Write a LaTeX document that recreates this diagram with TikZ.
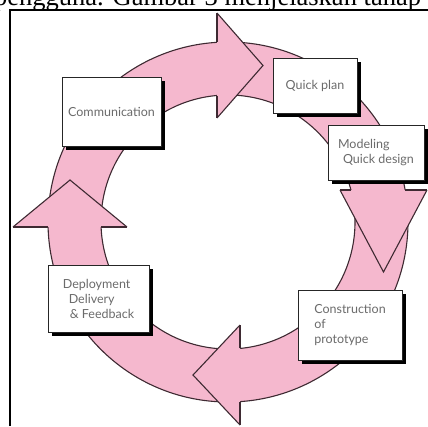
\documentclass[tikz,border=0pt]{standalone}
\usepackage{fontspec}
\setmainfont{Liberation Serif}
\newfontfamily\boxfont{Lato}
\usetikzlibrary{shadows,positioning}
\definecolor{ringpink}{RGB}{245,184,206}
\definecolor{ringline}{RGB}{62,42,50}
\newcommand{\ringhead}[3]{\fill[ringpink] (#1) -- (#2) -- (#3) -- cycle;
  \draw[ringedge] (#1) -- (#2) -- (#3);}

\begin{document}
\begin{tikzpicture}[x=1pt,y=-1pt,
  ringedge/.style={draw=ringline,line width=1.1pt,line join=miter},
  stage/.style={draw=black!85,fill=white,line width=0.8pt,text=black!58,
    font=\boxfont\fontsize{12.5}{15}\selectfont,align=left,inner sep=0pt,
    drop shadow={shadow xshift=4pt,shadow yshift=-4pt,fill=black,opacity=1}}]
% cut line of text above
\begin{scope}
\clip (0,0) rectangle (428,426);
\node[anchor=base west,inner sep=0pt,font=\fontsize{26.5}{26.5}\selectfont] (above) at (-6,5) {pengguna. Gambar 3 menjelaskan tahap};
\end{scope}
% frame
\draw[line width=1.4pt] (10,426) -- (10,10) -- (428,10);
% ring
\coordinate (c) at (228,222);
\filldraw[ringedge,fill=ringpink,even odd rule] (c) circle[radius=180] (c) circle[radius=127];
% heads
\ringhead{217,13}{263,65.5}{217,118}
\draw[ringedge] (217,13) -- (217,42.3) (217,95.5) -- (217,118);
\ringhead{427,190}{383.5,272}{340,190}
\draw[ringedge] (427,190) -- (405.1,190) (350.9,190) -- (340,190);
\ringhead{240,425}{193,375}{240,325}
\draw[ringedge] (240,425) -- (240,401.6) (240,348.4) -- (240,325);
\ringhead{13,227}{70,180}{127,227}
\draw[ringedge] (13,227) -- (48.1,227) (101.1,227) -- (127,227);
% stages
\node[stage,minimum width=99pt,minimum height=69pt] (comm) at (111.5,111.5) {Communication};
\node[stage,minimum width=84pt,minimum height=55pt] (plan) at (315,85.5) {Quick plan};
\node[stage,minimum width=96pt,minimum height=55pt] (design) at (376,152.5) {Modeling\\\hspace{5pt}Quick design};
\node[stage,minimum width=104pt,minimum height=70pt] (build) at (350,325) {Construction\\of\\prototype};
\node[stage,minimum width=101pt,minimum height=67pt] (deploy) at (98.5,298.5) {Deployment\\\hspace{6pt}Delivery\\\hspace{7pt}\& Feedback};
\pgfresetboundingbox
\useasboundingbox (0,0) rectangle (428,426);
\end{tikzpicture}
\end{document}
